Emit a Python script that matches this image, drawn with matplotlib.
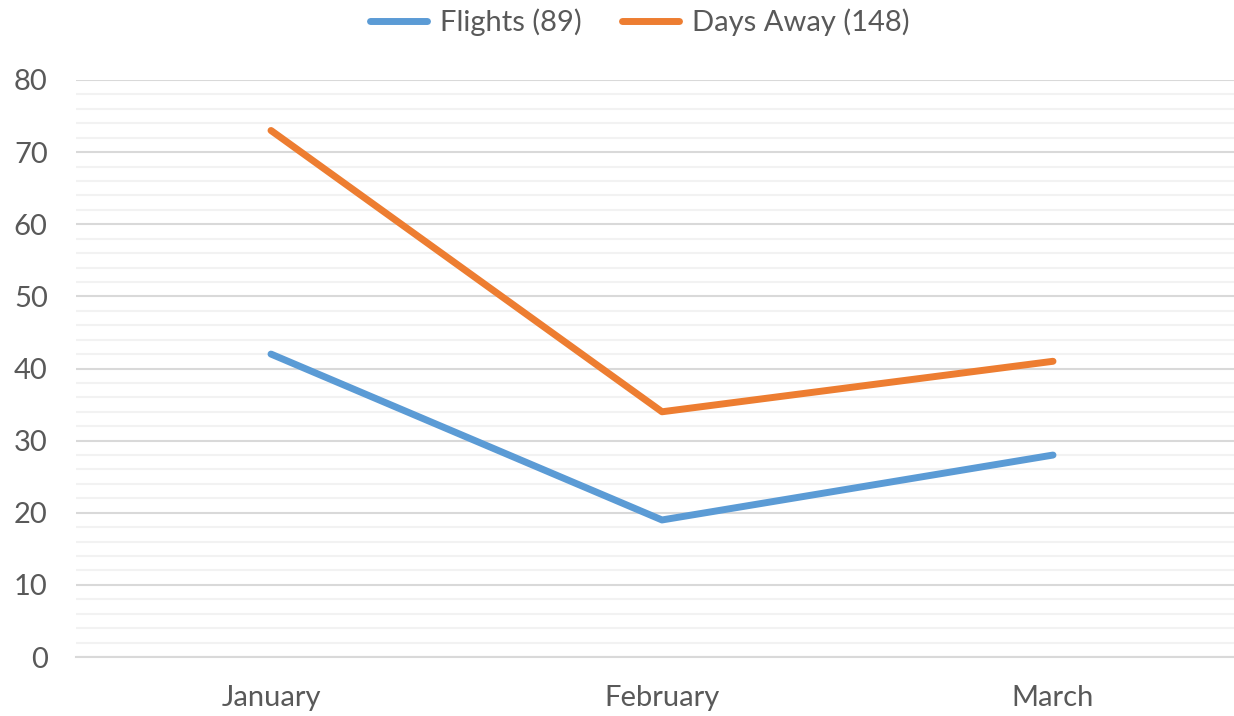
import matplotlib
matplotlib.use('Agg')
import matplotlib.pyplot as plt
from matplotlib.ticker import MultipleLocator

months = ['January', 'February', 'March']
flights = [42, 19, 28]
days_away = [73, 34, 41]

plt.rcParams['font.family'] = ['Lato', 'DejaVu Sans']
text_color = '#595959'

fig = plt.figure(figsize=(12.34, 7.16), dpi=100)
ax = fig.add_axes([75.5 / 1234, 59 / 716, 1173 / 1234, 577 / 716])

x = [i + 0.5 for i in range(len(months))]
ax.plot(x, flights, color='#5B9BD5', lw=5, solid_capstyle='round',
        label='Flights (%d)' % sum(flights))
ax.plot(x, days_away, color='#ED7D31', lw=5, solid_capstyle='round',
        label='Days Away (%d)' % sum(days_away))

ax.set_xlim(0, len(months))
ax.set_ylim(0, 80)
ax.set_xticks(x)
ax.set_xticklabels(months)
ax.yaxis.set_major_locator(MultipleLocator(10))
ax.yaxis.set_minor_locator(MultipleLocator(2))

ax.grid(axis='y', which='major', color='#D9D9D9', lw=1.5)
ax.grid(axis='y', which='minor', color='#F2F2F2', lw=1.5)
ax.set_axisbelow(True)
for s in ['top', 'right', 'left']:
    ax.spines[s].set_visible(False)
ax.spines['bottom'].set_color('#D9D9D9')
ax.spines['bottom'].set_linewidth(1.5)
ax.tick_params(axis='both', which='both', length=0, labelsize=21, colors=text_color)
ax.tick_params(axis='y', pad=20)
ax.tick_params(axis='x', pad=20)

leg = fig.legend(loc='upper center', bbox_to_anchor=(640 / 1234, 1.025), ncol=2,
                 frameon=False, fontsize=21, handlelength=1.95, columnspacing=1.4,
                 handletextpad=0.45)
for t in leg.get_texts():
    t.set_color(text_color)

fig.savefig('out.png', dpi=100)
